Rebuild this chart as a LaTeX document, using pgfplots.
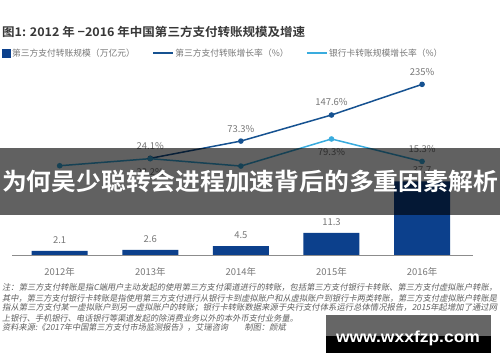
\documentclass[border=0pt]{standalone}
\usepackage{fontspec}
\setmainfont{Noto Sans CJK SC}[BoldFont={Noto Sans CJK SC Bold}]
\newfontfamily\notefont[FakeSlant=0.18]{Noto Sans CJK SC}
\newfontfamily\wmfont{Liberation Sans}[BoldFont={Liberation Sans Bold}]
\usepackage{graphicx}
\usepackage{pgfplots}
\usepackage{pgfplotstable}
\pgfplotsset{compat=1.18}
\definecolor{barblue}{RGB}{12,64,140}
\definecolor{darkline}{RGB}{22,82,145}
\definecolor{lightline}{RGB}{58,172,222}
\definecolor{lblgray}{RGB}{120,120,120}
\definecolor{titlegray}{RGB}{55,55,55}
\definecolor{notegray}{RGB}{95,95,95}

\pgfplotstableread{
x y
0 2.1
1 2.6
2 4.5
3 11.3
4 37.7
}\scaledata

\pgfplotstableread{
x y lbl
1 24.1 24.1\%
2 73.3 73.3\%
3 147.6 147.6\%
4 235 235\%
}\thirdgrowth

\pgfplotstableread{
x y lbl dy
0 3.0 {} -13
1 23.2 23.2\% -13.5
2 2.1 {} -13
3 79.3 79.3\% -13.3
4 15.3 15.3\% 12.5
}\bankgrowth

\begin{document}
\begin{tikzpicture}
\path[fill=white] (0bp,0bp) rectangle (500bp,362bp);
% title
\node[anchor=west, inner sep=0, text=titlegray] at (2bp,330bp)
  {\resizebox{303bp}{\height}{\fontsize{12}{13}\selectfont\bfseries 图1: 2012 年 −2016 年中国第三方支付转账规模及增速}};

% bars
\begin{axis}[at={(12bp,107bp)}, anchor=south west, scale only axis,
  width=461bp, height=195bp,
  xmin=-0.526, xmax=4.562, ymin=0, ymax=100,
  axis y line=none, axis x line*=bottom,
  x axis line style={draw=black!45, line width=0.7bp, -},
  xtick={0,1,2,3,4},
  xticklabels={2012年,2013年,2014年,2015年,2016年},
  xtick style={draw=none},
  xticklabel style={font=\fontsize{9.5}{10}\selectfont, text=lblgray, anchor=center, yshift=-13bp},
  ytick=\empty,
  ybar, bar width=56bp,
  nodes near coords,
  every node near coord/.append style={font=\fontsize{9.5}{10}\selectfont, text=lblgray, anchor=center, yshift=11bp},
  /pgf/number format/assume math mode=true,
  clip=false]
\addplot[fill=barblue, draw=none] table[x=x, y=y] {\scaledata};
\end{axis}

% lines
\begin{axis}[at={(12bp,107bp)}, anchor=south west, scale only axis,
  width=461bp, height=195bp,
  xmin=-0.526, xmax=4.562, ymin=-251.4, ymax=304.4,
  hide axis, clip=false,
  legend columns=3,
  legend style={draw=none, fill=none, inner sep=0pt,
    at={(axis description cs:-0.0217,1.0359)}, anchor=west,
    font=\fontsize{8.8}{9}\selectfont, text=lblgray,
    /tikz/every even column/.append style={column sep=16bp},
    nodes={inner sep=1.5bp}},
  legend cell align=left]
\addlegendimage{legend image code/.code={\fill[barblue] (0bp,-4bp) rectangle (8bp,4bp);}}
\addlegendentry{第三方支付转账规模（万亿元）}
\addplot[darkline, line width=1.5bp, mark=*, mark size=2bp,
  point meta=explicit symbolic, nodes near coords,
  every node near coord/.append style={font=\fontsize{9.5}{10}\selectfont, text=lblgray, anchor=center, yshift=12.5bp},
  legend image code/.code={\draw[darkline, line width=1.5bp] (0bp,0bp) -- (20bp,0bp);}]
  table[x=x, y=y, meta=lbl] {\thirdgrowth};
\addlegendentry{第三方支付转账增长率（\%）}
\addplot[lightline, line width=1.5bp, mark=*, mark size=2bp,
  point meta=explicit symbolic, nodes near coords,
  visualization depends on={\thisrow{dy} \as \dy},
  every node near coord/.append style={font=\fontsize{9.5}{10}\selectfont, text=lblgray, anchor=center, yshift=\dy bp},
  legend image code/.code={\draw[lightline, line width=1.5bp] (0bp,0bp) -- (20bp,0bp);}]
  table[x=x, y=y, meta=lbl] {\bankgrowth};
\addlegendentry{银行卡转账规模增长率（\%）}
\end{axis}

% footnote
\begin{scope}[every node/.style={anchor=west, inner sep=0, text=notegray}]
\node at (2bp,75bp) {\resizebox{495bp}{\height}{\fontsize{8.25}{9}\notefont 注：第三方支付转账是指C端用户主动发起的使用第三方支付渠道进行的转账，包括第三方支付银行卡转账、第三方支付虚拟账户转账，}};
\node at (2bp,64bp) {\resizebox{495bp}{\height}{\fontsize{8.25}{9}\notefont 其中，第三方支付银行卡转账是指使用第三方支付进行从银行卡到虚拟账户和从虚拟账户到银行卡两类转账，第三方支付虚拟账户转账是}};
\node at (2bp,54bp) {\resizebox{495bp}{\height}{\fontsize{8.25}{9}\notefont 指从第三方支付某一虚拟账户到另一虚拟账户的转账；银行卡转账数据来源于央行支付体系运行总体情况报告，2015年起增加了通过网}};
\node at (2bp,44bp) {\fontsize{8.25}{9}\notefont 上银行、手机银行、电话银行等渠道发起的除消费业务以外的本外币支付业务量。};
\node at (2bp,35bp) {\fontsize{8.25}{9}\notefont 资料来源:《2017年中国第三方支付市场监测报告》，艾瑞咨询\quad\quad 制图：颜斌};
\end{scope}

% overlay banner
\fill[black, opacity=0.62] (0bp,147bp) rectangle (500bp,214bp);
\node[inner sep=0, text=white] at (250bp,181bp)
  {\resizebox{496bp}{\height}{\fontsize{24}{25}\selectfont\bfseries 为何吴少聪转会进程加速背后的多重因素解析}};

% watermark
\fill[black!60] (326bp,26bp) rectangle (491bp,47bp);
\fill[black] (326bp,9bp) rectangle (491bp,26bp);
\node[anchor=base, inner sep=0, text=white] at (408bp,19.3bp)
  {\resizebox{144bp}{\height}{\fontsize{16}{17}\wmfont\bfseries www.wxxfzp.com}};
\end{tikzpicture}
\end{document}
